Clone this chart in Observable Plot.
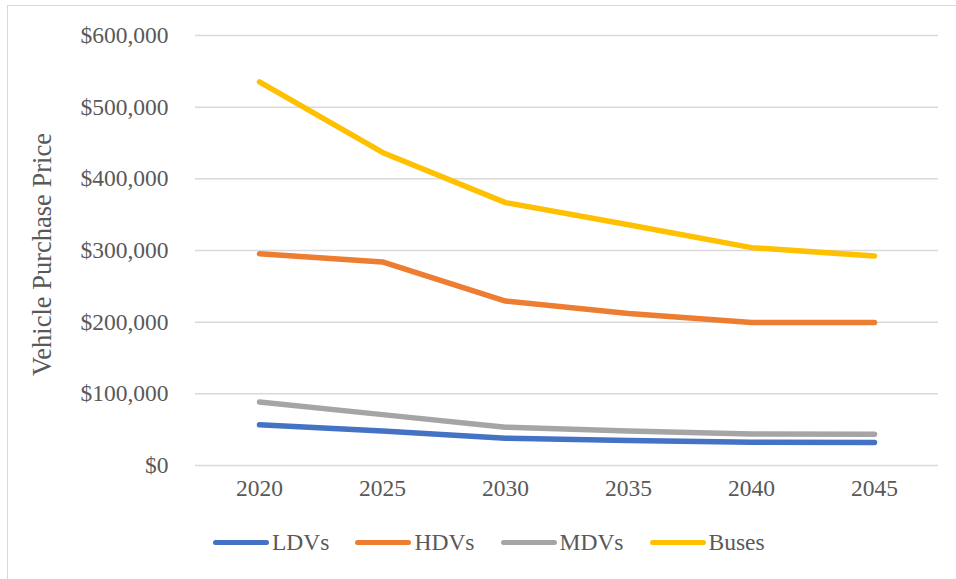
<!DOCTYPE html>
<html>
<head>
<meta charset="utf-8">
<script src="https://cdn.jsdelivr.net/npm/d3@7"></script>
<script src="https://cdn.jsdelivr.net/npm/@observablehq/plot@0.6"></script>
<style>
  html, body { margin: 0; padding: 0; background: #fff; }
  #wrap { position: relative; width: 956px; height: 579px; overflow: hidden; font-family: 'Liberation Serif'; }
  #border { position: absolute; left: 7px; top: 5px; width: 1000px; height: 1000px; border: 1.5px solid #d9d9d9; box-sizing: border-box; }
  #chart { position: absolute; left: 0; top: 0; }
  #chart svg, #chart svg text { font-family: 'Liberation Serif' !important; }
  #legend { position: absolute; left: 213px; top: 529px; display: flex; align-items: center; gap: 26px; color: #595959; font-size: 23.5px; font-family: 'Liberation Serif'; }
  .item { display: flex; align-items: center; }
  .sw { width: 56px; height: 5px; border-radius: 3px; margin-right: 3px; }
</style>
</head>
<body>
<div id="wrap">
  <div id="border"></div>
  <div id="chart"></div>
  <div id="legend"></div>
</div>
<script>
const years = ["2020", "2025", "2030", "2035", "2040", "2045"];
const seriesNames = ["LDVs", "HDVs", "MDVs", "Buses"];
const colors = ["#4472C4", "#ED7D31", "#A5A5A5", "#FFC000"];
const ldvs  = [56700, 48000, 38000, 35000, 32500, 32200];
const hdvs  = [295500, 284000, 229500, 212000, 199600, 199600];
const mdvs  = [88500, 71000, 53500, 48000, 44000, 43500];
const buses = [535300, 436800, 366800, 336000, 304000, 292300];
const yTicks = [0, 100000, 200000, 300000, 400000, 500000, 600000];
const yTitle = "Vehicle Purchase Price";

const seriesValues = [ldvs, hdvs, mdvs, buses];
const rows = [];
seriesNames.forEach((s, i) => years.forEach((y, j) => rows.push({series: s, year: y, value: seriesValues[i][j]})));

const fmt = d => "$" + d3.format(",")(d);

const chart = Plot.plot({
  width: 956,
  height: 510,
  marginLeft: 195,
  marginRight: 18,
  marginTop: 35,
  marginBottom: 45,
  style: {fontFamily: "Liberation Serif", fontSize: "23.5px", color: "#595959", background: "transparent"},
  x: {type: "point", domain: years, padding: 0.5},
  y: {domain: [0, 600000]},
  color: {domain: seriesNames, range: colors},
  marks: [
    Plot.ruleY(yTicks, {stroke: "#d9d9d9", strokeWidth: 1.5}),
    Plot.axisY(yTicks, {tickSize: 0, tickPadding: 27, tickFormat: fmt, fill: "#595959", label: null, fontSize: 23.5}),
    Plot.axisX({tickSize: 0, tickPadding: 14, label: null, fill: "#595959", fontSize: 23.5}),
    Plot.text([yTitle], {frameAnchor: "left", rotate: -90, dx: -153, dy: 4, fill: "#595959", fontSize: 26.5, textAnchor: "middle"}),
    Plot.line(rows, {x: "year", y: "value", z: "series", stroke: "series", strokeWidth: 5.5, strokeLinecap: "round", strokeLinejoin: "round"})
  ]
});
document.getElementById("chart").appendChild(chart);

const legend = document.getElementById("legend");
seriesNames.forEach((s, i) => {
  const it = document.createElement("div");
  it.className = "item";
  const sw = document.createElement("div");
  sw.className = "sw";
  sw.style.background = colors[i];
  const t = document.createElement("span");
  t.textContent = s;
  it.appendChild(sw); it.appendChild(t);
  legend.appendChild(it);
});
</script>
</body>
</html>
